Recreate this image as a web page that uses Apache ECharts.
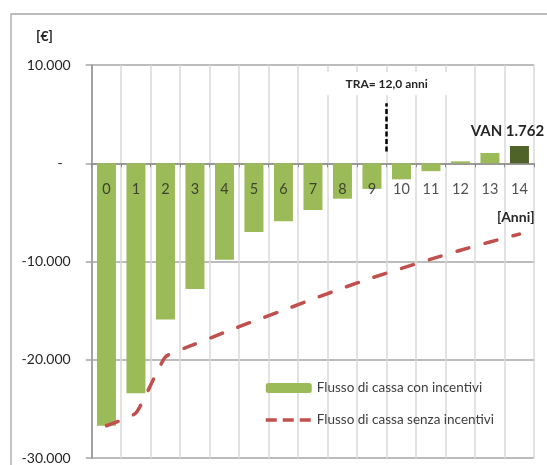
<!DOCTYPE html>
<html>
<head>
<meta charset="utf-8">
<script src="https://cdn.jsdelivr.net/npm/echarts@6/dist/echarts.min.js"></script>
<style>
  html, body { margin: 0; padding: 0; background: #fff; }
  #chart { width: 547px; height: 465px; }
</style>
</head>
<body>
<div id="chart"></div>
<script>
// Years of the investment
const anni = ['0','1','2','3','4','5','6','7','8','9','10','11','12','13','14'];
// Cumulative cash flow with incentives (€)
const flussoConIncentivi = [-26700, -23400, -15900, -12800, -9800, -7000, -5900, -4750, -3600, -2600, -1630, -800, 200, 1050, 1762];
// Cumulative cash flow without incentives (€)
const flussoSenzaIncentivi = [-26700, -25400, -19700, -18400, -17200, -16050, -14950, -13800, -12700, -11650, -10700, -9750, -8850, -8000, -7200];
// Payback marker: position on the continuous year scale (boundary between years) and vertical extent (€)
const traPosizione = 10;
const traEstremi = [1200, 6100];
const traTesto = 'TRA= 12,0 anni';

const FONT = 'Lato, "Open Sans", sans-serif';
const green = '#9BBB59';
const darkGreen = '#4F6228';
const red = '#C0504D';
const ink = '#262626';

function euro(v) {
  if (v === 0) return '{z|-}';
  const s = Math.abs(v).toString().replace(/\B(?=(\d{3})+(?!\d))/g, '.');
  return (v < 0 ? '-' : '') + s;
}

const chart = echarts.init(document.getElementById('chart'));
const lastIdx = flussoConIncentivi.length - 1;

chart.setOption({
  animation: false,
  textStyle: { fontFamily: FONT },
  graphic: [{
    type: 'rect',
    shape: { x: 11, y: 14, width: 700, height: 600 },
    style: { fill: 'none', stroke: '#A6A6A6', lineWidth: 1.3 },
    silent: true
  }],
  title: [
    { text: '[€]', left: 31, top: 24, textStyle: { fontFamily: FONT, fontSize: 14, fontWeight: 'bold', color: ink } },
    { text: '[Anni]', left: 492, top: 205, textStyle: { fontFamily: FONT, fontSize: 14, fontWeight: 'bold', color: ink } }
  ],
  grid: { left: 91.7, right: 12.8, top: 65, bottom: 6.8, containLabel: false, outerBoundsMode: 'none' },
  legend: {
    orient: 'vertical',
    left: 259,
    top: 376,
    itemWidth: 46,
    itemHeight: 10,
    itemGap: 18,
    data: [
      { name: 'Flusso di cassa con incentivi', itemStyle: { color: green } },
      { name: 'Flusso di cassa senza incentivi', itemStyle: { opacity: 0 }, lineStyle: { type: [11, 6], width: 3.5, cap: 'butt' } }
    ],
    textStyle: { fontFamily: FONT, fontSize: 13.5, color: '#404040' }
  },
  xAxis: [{
    type: 'category',
    data: anni,
    axisLine: { onZero: true, lineStyle: { color: '#8C8C8C', width: 1.5 } },
    axisTick: { show: true, length: 4, lineStyle: { color: '#8C8C8C' } },
    axisLabel: { show: false },
    splitLine: { show: true, lineStyle: { color: '#D9D9D9', width: 1.5 } }
  }, {
    // continuous year scale used to place the payback marker between two years
    type: 'value',
    min: 0,
    max: anni.length,
    show: false
  }],
  yAxis: {
    type: 'value',
    min: -30000,
    max: 10000,
    interval: 10000,
    axisLine: { show: true, lineStyle: { color: '#8C8C8C', width: 1.5 } },
    axisTick: { show: true, length: 6, lineStyle: { color: '#A6A6A6', width: 1.5 } },
    axisLabel: {
      margin: 21,
      fontFamily: FONT,
      fontSize: 14,
      color: ink,
      formatter: euro,
      rich: { z: { fontFamily: FONT, fontSize: 14, color: ink, padding: [0, 8, 0, 0] } }
    },
    splitLine: { show: true, lineStyle: { color: '#A6A6A6', width: 1.5 } }
  },
  series: [{
    name: 'Flusso di cassa con incentivi',
    type: 'bar',
    data: flussoConIncentivi,
    barWidth: 19,
    itemStyle: { color: p => (p.dataIndex === lastIdx ? darkGreen : green) },
    label: {
      show: true,
      position: 'top',
      offset: [-12, -2],
      fontFamily: FONT,
      fontSize: 15,
      fontWeight: 'bold',
      color: ink,
      formatter: p => (p.dataIndex === lastIdx ? 'VAN ' + euro(p.value) : '')
    },
    z: 2
  }, {
    name: 'Flusso di cassa senza incentivi',
    type: 'line',
    data: flussoSenzaIncentivi,
    symbol: 'none',
    smooth: 0.15,
    lineStyle: { color: red, width: 3.5, type: [12.5, 16.5], cap: 'round' },
    itemStyle: { color: red },
    z: 4
  }, {
    // year labels sitting just under the zero line
    name: 'anni',
    type: 'scatter',
    data: anni.map(() => 0),
    symbolSize: 0,
    silent: true,
    label: {
      show: true,
      position: 'bottom',
      distance: 18.5,
      fontFamily: FONT,
      fontSize: 14.5,
      color: ink,
      formatter: p => anni[p.dataIndex]
    },
    z: 6
  }, {
    name: 'TRA',
    type: 'line',
    xAxisIndex: 1,
    yAxisIndex: 0,
    data: [],
    silent: true,
    markLine: {
      symbol: 'none',
      silent: true,
      lineStyle: { color: '#000', width: 2.5, type: [5, 2.5] },
      label: {
        show: true,
        position: 'end',
        distance: 8,
        formatter: traTesto,
        fontFamily: FONT,
        fontSize: 12,
        fontWeight: 'bold',
        color: ink,
        backgroundColor: '#fff',
        padding: [6, 28, 5, 28]
      },
      data: [[{ coord: [traPosizione, traEstremi[0]] }, { coord: [traPosizione, traEstremi[1]] }]]
    },
    z: 5
  }]
});
</script>
</body>
</html>
